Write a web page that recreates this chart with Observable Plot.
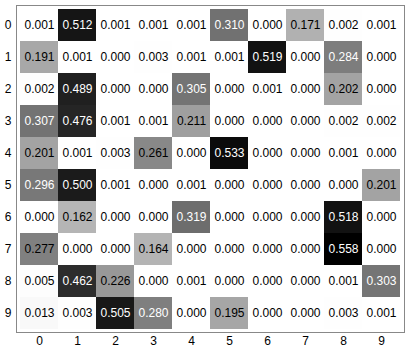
<!DOCTYPE html>
<html>
<head>
<meta charset="utf-8">
<script src="https://cdn.jsdelivr.net/npm/d3@7"></script>
<script src="https://cdn.jsdelivr.net/npm/@observablehq/plot@0.6"></script>
<style>
  html, body { margin: 0; padding: 0; background: #fff; }
  svg { display: block; }
</style>
</head>
<body>
<div id="chart"></div>
<script>
const rowLabels = ["0","1","2","3","4","5","6","7","8","9"];
const colLabels = ["0","1","2","3","4","5","6","7","8","9"];
const values = [
  [0.001, 0.512, 0.001, 0.001, 0.001, 0.310, 0.000, 0.171, 0.002, 0.001],
  [0.191, 0.001, 0.000, 0.003, 0.001, 0.001, 0.519, 0.000, 0.284, 0.000],
  [0.002, 0.489, 0.000, 0.000, 0.305, 0.000, 0.001, 0.000, 0.202, 0.000],
  [0.307, 0.476, 0.001, 0.001, 0.211, 0.000, 0.000, 0.000, 0.002, 0.002],
  [0.201, 0.001, 0.003, 0.261, 0.000, 0.533, 0.000, 0.000, 0.001, 0.000],
  [0.296, 0.500, 0.001, 0.000, 0.001, 0.000, 0.000, 0.000, 0.000, 0.201],
  [0.000, 0.162, 0.000, 0.000, 0.319, 0.000, 0.000, 0.000, 0.518, 0.000],
  [0.277, 0.000, 0.000, 0.164, 0.000, 0.000, 0.000, 0.000, 0.558, 0.000],
  [0.005, 0.462, 0.226, 0.000, 0.001, 0.000, 0.000, 0.000, 0.001, 0.303],
  [0.013, 0.003, 0.505, 0.280, 0.000, 0.195, 0.000, 0.000, 0.003, 0.001]
];

const cells = [];
values.forEach((row, i) => row.forEach((v, j) => cells.push({row: rowLabels[i], col: colLabels[j], v})));
const vmax = d3.max(cells, d => d.v);
const thresh = vmax / 2;

const chart = Plot.plot({
  width: 410,
  height: 349,
  marginLeft: 16,
  marginRight: 6,
  marginTop: 5,
  marginBottom: 17,
  style: {fontFamily: "Liberation Sans, Arial, sans-serif", fontSize: "12px", background: "#fff"},
  x: {domain: colLabels, padding: 0, axis: "bottom", tickSize: 0, tickPadding: 4, label: null},
  y: {domain: rowLabels, padding: 0, axis: "left", tickSize: 0, tickPadding: 5, label: null},
  color: {type: "linear", domain: [0, vmax], range: ["#ffffff", "#000000"]},
  marks: [
    Plot.cell(cells, {x: "col", y: "row", fill: "v", inset: 0}),
    Plot.text(cells, {x: "col", y: "row", text: d => d.v.toFixed(3), fill: d => d.v > thresh ? "white" : "black", fontSize: 12}),
    Plot.frame({stroke: "#888", strokeWidth: 1})
  ]
});
document.getElementById("chart").appendChild(chart);
</script>
</body>
</html>
